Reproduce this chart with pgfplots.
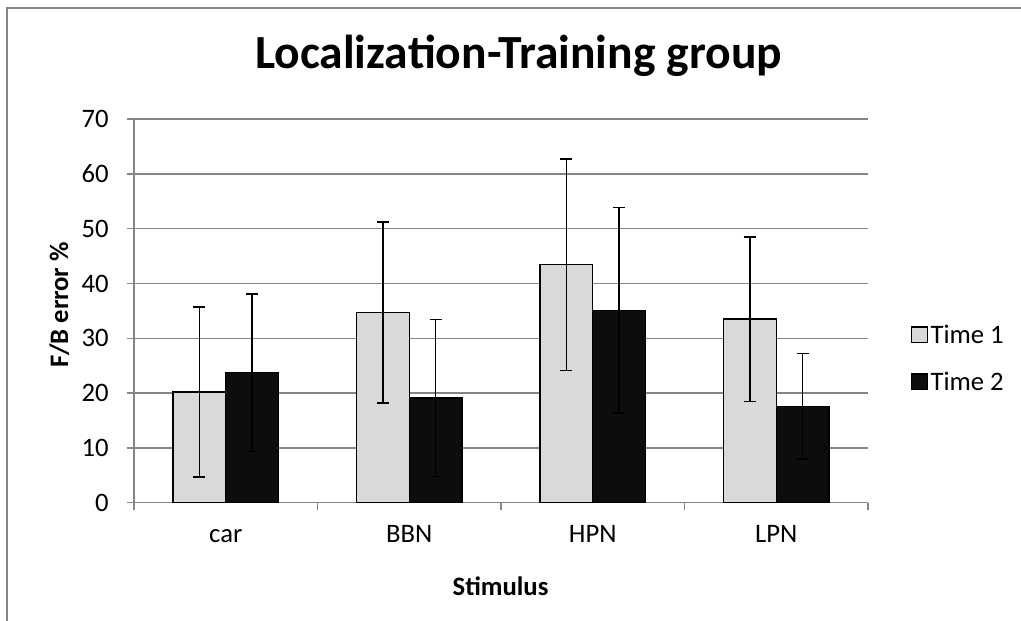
\documentclass[border=0pt]{standalone}
\usepackage{fontspec}
\setmainfont{Carlito}
\usepackage{pgfplots}
\usepackage{pgfplotstable}
\pgfplotsset{compat=1.18}
\definecolor{gridgray}{HTML}{868686}
\definecolor{barlight}{HTML}{D9D9D9}
\definecolor{bardark}{HTML}{0D0D0D}
\pgfplotstableread{
x y e
0 20.2 15.5
1 34.7 16.5
2 43.4 19.3
3 33.5 15.0
}\timeone
\pgfplotstableread{
x y e
0 23.7 14.4
1 19.1 14.3
2 35.1 18.75
3 17.6 9.6
}\timetwo
\newcommand{\lbl}{\fontsize{20}{24}\selectfont}
\begin{document}
\begin{tikzpicture}
\useasboundingbox (0,0) rectangle (765.75pt,465.75pt);
\draw[gridgray, line width=1.3pt] (5.25pt,0pt) -- (5.25pt,459.75pt) -- (765.75pt,459.75pt);
\begin{axis}[
  at={(100.5pt,88.7pt)}, anchor=south west,
  scale only axis, width=550.5pt, height=287.8pt,
  xmin=-0.5, xmax=3.5, ymin=0, ymax=70,
  ybar=0pt, bar width=39.5pt,
  axis x line*=bottom, axis y line*=left,
  axis line style={gridgray, line width=1.1pt},
  ytick={0,10,...,70},
  ymajorgrids, major grid style={gridgray, line width=1.1pt},
  xtick={-0.5,0.5,1.5,2.5,3.5}, xticklabels={},
  extra x ticks={0,1,2,3},
  extra x tick labels={car,BBN,HPN,LPN},
  extra x tick style={major tick length=0pt, grid=none},
  tick align=outside, major tick length=5.5pt,
  tick style={gridgray, line width=1.1pt},
  tick label style={font=\lbl},
  /pgf/number format/assume math mode=true,
  xticklabel style={anchor=base, yshift=-30pt},
  yticklabel style={anchor=east, xshift=-10pt},
  legend style={draw=none, fill=none, font=\lbl, at={(axis description cs:1,0.376)}, anchor=west, xshift=29pt, row sep=16pt, legend cell align=left},
  legend image code/.code={\draw[#1, line width=0.9pt] (0pt,-5.9pt) rectangle (11.8pt,5.9pt);},
]
\addplot[fill=barlight, draw=black, line width=1pt,
  error bars/.cd, y dir=both, y explicit,
  error bar style={black, line width=1.1pt},
  error mark options={rotate=90, mark size=4.5pt, line width=1.1pt, black}]
  table[x=x, y=y, y error=e] {\timeone};
\addlegendentry{Time 1}
\addplot[fill=bardark, draw=black, line width=1pt,
  error bars/.cd, y dir=both, y explicit,
  error bar style={black, line width=1.1pt},
  error mark options={rotate=90, mark size=4.5pt, line width=1.1pt, black}]
  table[x=x, y=y, y error=e] {\timetwo};
\addlegendentry{Time 2}
\end{axis}
\node[font=\bfseries\fontsize{35.7}{42}\selectfont, anchor=base] at (388.9pt,414.5pt) {Localization-Training group};
\node[font=\bfseries\lbl, anchor=base] at (375.4pt,18.75pt) {Stimulus};
\node[font=\bfseries\lbl, anchor=base, rotate=90] at (51pt,237.2pt) {F/B error \%};
\end{tikzpicture}
\end{document}
